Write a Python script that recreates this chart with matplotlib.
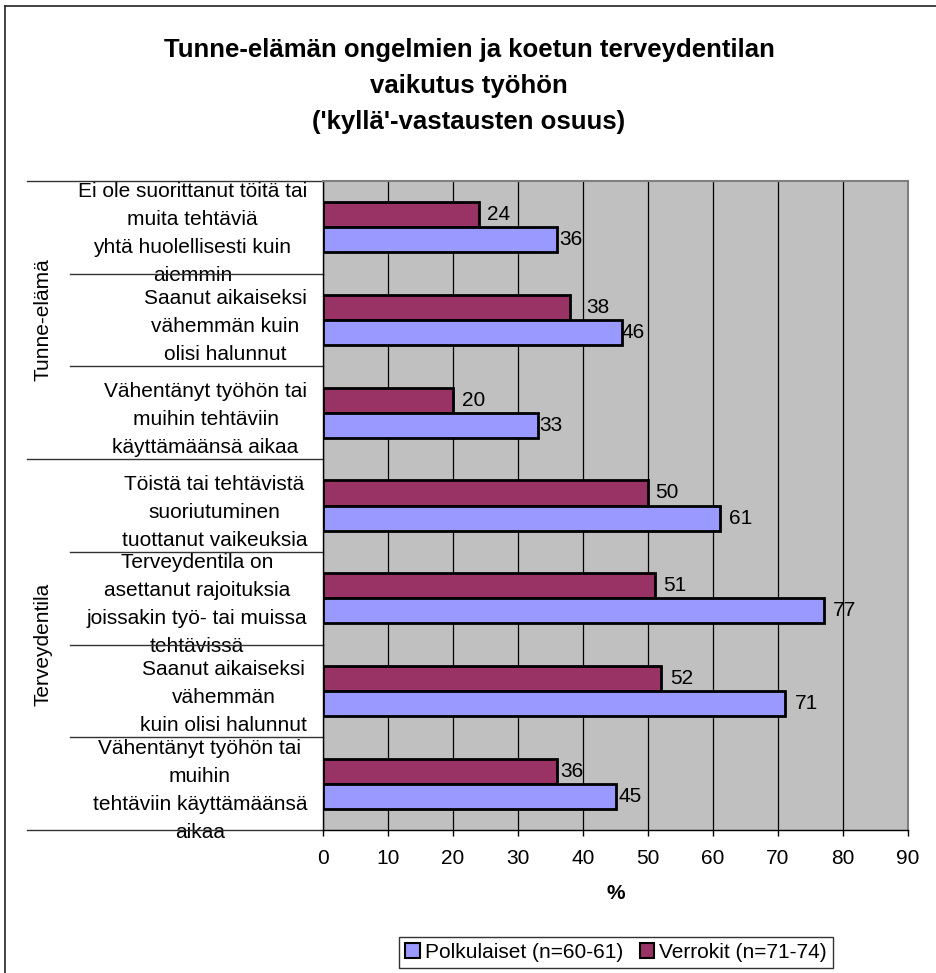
import matplotlib
matplotlib.use("Agg")
import matplotlib.pyplot as plt
import matplotlib.transforms as mtransforms
from matplotlib.patches import Patch
from matplotlib.lines import Line2D

plt.rcParams["font.family"] = ["Liberation Sans", "DejaVu Sans"]

# --- data -------------------------------------------------------------
categories = [
    "Ei ole suorittanut töitä tai\nmuita tehtäviä\nyhtä huolellisesti kuin\naiemmin",
    "Saanut aikaiseksi\nvähemmän kuin\nolisi halunnut",
    "Vähentänyt työhön tai\nmuihin tehtäviin\nkäyttämäänsä aikaa",
    "Töistä tai tehtävistä\nsuoriutuminen\ntuottanut vaikeuksia",
    "Terveydentila on\nasettanut rajoituksia\njoissakin työ- tai muissa\ntehtävissä",
    "Saanut aikaiseksi\nvähemmän\nkuin olisi halunnut",
    "Vähentänyt työhön tai\nmuihin\ntehtäviin käyttämäänsä\naikaa",
]
groups = ["Tunne-elämä", "Terveydentila"]
group_sizes = [3, 4]
verrokit = [24, 38, 20, 50, 51, 52, 36]
polkulaiset = [36, 46, 33, 61, 77, 71, 45]
series_names = ["Polkulaiset (n=60-61)", "Verrokit (n=71-74)"]
x_ticks = [0, 10, 20, 30, 40, 50, 60, 70, 80, 90]

# small horizontal nudges (px) for the value labels
nudge_verrokit = [8, 16, 9, 7, 9, 9, 3]
nudge_polku = [2, 0, 2, 10, 9, 10, 3]

# --- styling ----------------------------------------------------------
W, H, DPI = 937, 973, 100
C_BLUE = "#9999FF"
C_MAROON = "#993366"
C_BG = "#C0C0C0"
FS = 15

fig = plt.figure(figsize=(W / DPI, H / DPI), dpi=DPI)
fig.patch.set_facecolor("white")

# frame lines of the chart area
fig.add_artist(Line2D([5 / W, 1.0], [1 - 6 / H, 1 - 6 / H], color="#222222", lw=1.2,
                      transform=fig.transFigure))
fig.add_artist(Line2D([5 / W, 5 / W], [0.0, 1 - 6 / H], color="#222222", lw=1.2,
                      transform=fig.transFigure))

left, right, top, bottom = 323, 908, 181, 830
ax = fig.add_axes([left / W, 1 - bottom / H, (right - left) / W, (bottom - top) / H])
ax.set_facecolor(C_BG)

n = len(categories)
y = list(range(n))
bh = 0.27

ax.barh([v - bh / 2 for v in y], verrokit, height=bh, color=C_MAROON,
        edgecolor="black", linewidth=2.0, zorder=3)
ax.barh([v + bh / 2 for v in y], polkulaiset, height=bh, color=C_BLUE,
        edgecolor="black", linewidth=2.0, zorder=3)

for i in range(n):
    t1 = mtransforms.offset_copy(ax.transData, fig=fig, x=nudge_verrokit[i] * 0.72, y=0, units="points")
    ax.text(verrokit[i], i - bh / 2, str(verrokit[i]), transform=t1, ha="left",
            va="center", fontsize=FS, zorder=5)
    t2 = mtransforms.offset_copy(ax.transData, fig=fig, x=nudge_polku[i] * 0.72, y=0, units="points")
    ax.text(polkulaiset[i], i + bh / 2, str(polkulaiset[i]), transform=t2, ha="left",
            va="center", fontsize=FS, zorder=5)

ax.set_xlim(0, 90)
ax.set_ylim(n - 0.5, -0.5)
ax.set_xticks(x_ticks)
ax.set_xticklabels([str(t) for t in x_ticks], fontsize=FS)
ax.tick_params(axis="x", direction="out", length=4.5, width=1, pad=9, colors="black")
ax.set_yticks(y)
ax.set_yticklabels(categories, fontsize=FS, ha="right", multialignment="center",
                   linespacing=1.6)
ax.tick_params(axis="y", length=0, pad=11.5)

ax.grid(axis="x", color="black", linewidth=0.9, zorder=1)
ax.set_axisbelow(True)

for s in ["top", "right"]:
    ax.spines[s].set_color("#808080")
    ax.spines[s].set_linewidth(1.5)
for s in ["left", "bottom"]:
    ax.spines[s].set_color("black")
    ax.spines[s].set_linewidth(1.0)

ax.set_xlabel("%", fontsize=FS, fontweight="bold", labelpad=12)

# category separators and group labels to the left of the axis
blend = mtransforms.blended_transform_factory(ax.transAxes, ax.transData)
x_long = (27 - left) / (right - left)
x_short = (70 - left) / (right - left)
boundaries = [0]
for g in group_sizes:
    boundaries.append(boundaries[-1] + g)
for b in range(n + 1):
    x0 = x_long if b in boundaries else x_short
    ax.plot([x0, 0], [b - 0.5, b - 0.5], color="#333333", lw=1.0,
            transform=blend, clip_on=False)

x_group = (43 - left) / (right - left)
for gi, gname in enumerate(groups):
    mid = (boundaries[gi] + boundaries[gi + 1]) / 2 - 0.5
    ax.text(x_group, mid, gname, transform=blend, rotation=90, ha="center",
            va="center", fontsize=FS)

# title
fig.text(469 / W, 1 - 86 / H,
         "Tunne-elämän ongelmien ja koetun terveydentilan\nvaikutus työhön\n('kyllä'-vastausten osuus)",
         ha="center", va="center", fontsize=18.5, fontweight="bold", linespacing=1.65)

# legend
handles = [Patch(facecolor=C_BLUE, edgecolor="black", linewidth=1.5),
           Patch(facecolor=C_MAROON, edgecolor="black", linewidth=1.5)]
leg = fig.legend(handles, series_names, loc="center", bbox_to_anchor=(616 / W, 1 - 952.5 / H),
                 ncol=2, fontsize=FS, frameon=True, fancybox=False, handlelength=0.7,
                 handleheight=0.7, handletextpad=0.25, columnspacing=0.8,
                 borderpad=0.3, borderaxespad=0)
leg.get_frame().set_edgecolor("black")
leg.get_frame().set_linewidth(1.0)

fig.savefig("out.png", dpi=DPI)
